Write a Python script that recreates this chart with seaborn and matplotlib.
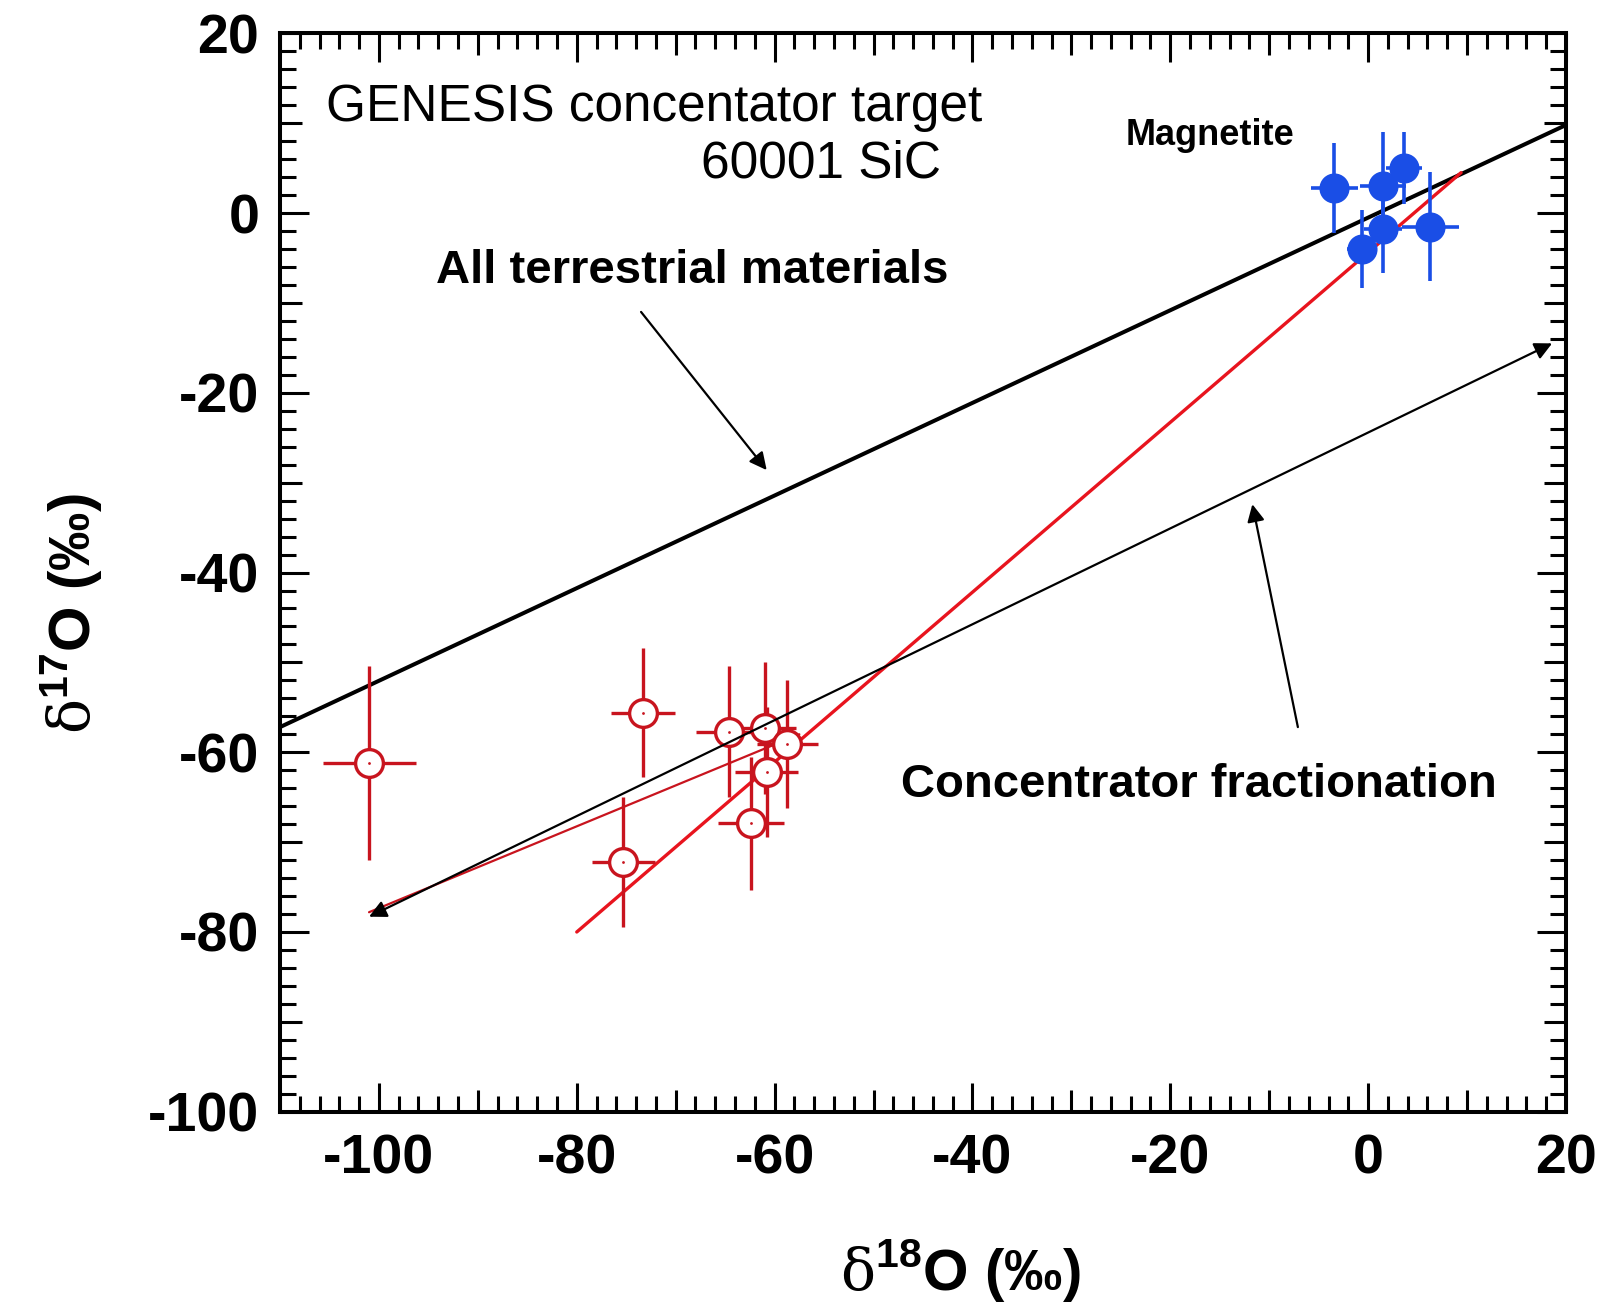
import matplotlib
matplotlib.use("Agg")
import matplotlib.pyplot as plt
from matplotlib.ticker import MultipleLocator, FuncFormatter
import numpy as np
import pandas as pd
import seaborn as sns

# ---------------- data ----------------
# SiC concentrator target (open red circles)
sic_d18o     = [-101.0, -73.3, -64.6, -61.0, -60.8, -58.7, -62.4, -75.3]
sic_d17o     = [-61.2, -55.6, -57.7, -57.3, -62.2, -59.1, -67.9, -72.2]
sic_d18o_err = [4.7, 3.2, 3.3, 3.2, 3.2, 3.1, 3.3, 3.2]
sic_d17o_err = [10.8, 7.2, 7.3, 7.3, 7.2, 7.1, 7.4, 7.2]

# Magnetite standard (filled blue circles)
mag_d18o     = [-3.4, 1.5, 3.6, -0.6, 1.5, 6.3]
mag_d17o     = [2.8, 3.0, 5.0, -4.0, -1.8, -1.5]
mag_d18o_err = [2.4, 2.3, 1.8, 1.5, 1.9, 2.9]
mag_d17o_err = [5.0, 6.0, 4.0, 4.3, 4.9, 6.1]

# lines
tfl_x, tfl_y       = [-110, 20], [-57.2, 9.8]        # terrestrial fractionation line
fit_x, fit_y       = [-80, 9.4], [-80.0, 4.5]        # red fit line
thin_x, thin_y     = [-101.0, -57.5], [-77.8, -58.0] # thin red line

# double-headed arrow (concentrator fractionation)
frac_start, frac_end = (-101.0, -78.3), (18.6, -14.5)

sic = pd.DataFrame({"d18O": sic_d18o, "d17O": sic_d17o})
mag = pd.DataFrame({"d18O": mag_d18o, "d17O": mag_d17o})

RED_PT   = "#c8141e"
RED_LINE = "#e8141e"
BLUE     = "#1a4ee6"

# ---------------- style ----------------
sns.set_theme(style="white")
plt.rcParams["font.family"] = ["Liberation Sans", "DejaVu Sans"]
plt.rcParams["font.weight"] = "bold"
plt.rcParams["mathtext.fontset"] = "custom"
plt.rcParams["mathtext.rm"] = "DejaVu Serif:normal"
plt.rcParams["mathtext.bf"] = "Liberation Sans:bold"
plt.rcParams["axes.edgecolor"] = "black"
plt.rcParams["axes.unicode_minus"] = False
for key in ("text.color", "axes.labelcolor", "xtick.color", "ytick.color"):
    plt.rcParams[key] = "black"

fig = plt.figure(figsize=(16.01, 13.13), dpi=100)
ax = fig.add_axes([0.1749, 0.1533, 0.8032, 0.8213])

# lines
ax.plot(tfl_x, tfl_y, color="black", lw=2.9, zorder=2)
ax.plot(fit_x, fit_y, color=RED_LINE, lw=2.4, zorder=2)
ax.plot(thin_x, thin_y, color=RED_PT, lw=1.6, zorder=2)

# error bars
ax.errorbar(sic_d18o, sic_d17o, xerr=sic_d18o_err, yerr=sic_d17o_err,
            fmt="none", ecolor=RED_PT, elinewidth=2.4, capsize=0, zorder=3)
ax.errorbar(mag_d18o, mag_d17o, xerr=mag_d18o_err, yerr=mag_d17o_err,
            fmt="none", ecolor=BLUE, elinewidth=2.6, capsize=0, zorder=3)

# markers
sns.scatterplot(data=sic, x="d18O", y="d17O", s=400, color="white",
                edgecolor=RED_PT, linewidth=2.4, zorder=4, ax=ax)
sns.scatterplot(data=sic, x="d18O", y="d17O", s=4, color=RED_PT,
                edgecolor=RED_PT, linewidth=0, zorder=5, ax=ax)
sns.scatterplot(data=mag, x="d18O", y="d17O", s=470, color=BLUE,
                edgecolor=BLUE, linewidth=0, zorder=4, ax=ax)

# arrows
arrow_kw = dict(arrowstyle="-|>", color="black", lw=1.6, mutation_scale=26,
                shrinkA=0, shrinkB=0)
ax.annotate("", xy=frac_end, xytext=frac_start,
            arrowprops=dict(arrow_kw, arrowstyle="<|-|>"), zorder=6)
ax.annotate("", xy=(-60.8, -28.6), xytext=(-73.5, -11.0), arrowprops=arrow_kw)
ax.annotate("", xy=(-11.7, -32.4), xytext=(-7.1, -57.2), arrowprops=arrow_kw)

# texts
ax.text(-105.4, 11.8, "GENESIS concentator target", fontsize=37,
        fontweight="normal", va="center", ha="left")
ax.text(-43.2, 5.5, "60001 SiC", fontsize=37, fontweight="normal",
        va="center", ha="right")
ax.text(-24.5, 8.6, "Magnetite", fontsize=26, va="center", ha="left")
ax.text(-94.2, -6.4, "All terrestrial materials", fontsize=34,
        va="center", ha="left")
ax.text(-47.2, -63.6, "Concentrator fractionation", fontsize=34,
        va="center", ha="left")

# axes
ax.set_xlim(-110, 20)
ax.set_ylim(-100, 20)
fmt = FuncFormatter(lambda v, p: f"{int(round(v))}" if round(v) % 20 == 0 else "")
for axis in (ax.xaxis, ax.yaxis):
    axis.set_major_locator(MultipleLocator(10))
    axis.set_minor_locator(MultipleLocator(2))
    axis.set_major_formatter(fmt)
ax.tick_params(which="both", direction="in", top=True, right=True,
               bottom=True, left=True, color="black", width=2.2)
ax.tick_params(which="major", length=15.6, labelsize=40)
ax.tick_params(which="minor", length=11.3)
ax.tick_params(axis="x", which="major", pad=16)
ax.tick_params(axis="y", which="major", pad=15)
for sp in ax.spines.values():
    sp.set_linewidth(2.9)
    sp.set_color("black")

ax.set_xlabel(r"$\mathrm{\delta}^{\mathbf{18}}$O (‰)", fontsize=42, fontweight="bold")
ax.set_ylabel(r"$\mathrm{\delta}^{\mathbf{17}}$O (‰)", fontsize=42, fontweight="bold")
ax.xaxis.set_label_coords(0.529, -0.117)
ax.yaxis.set_label_coords(-0.136, 0.462)

# the multiples of 20 get longer ticks than the multiples of 10
fig.canvas.draw()
for axis in (ax.xaxis, ax.yaxis):
    for t in axis.get_major_ticks():
        if round(t.get_loc()) % 20 == 0:
            t.tick1line.set_markersize(21)
            t.tick2line.set_markersize(21)

fig.savefig("out.png", dpi=100)
